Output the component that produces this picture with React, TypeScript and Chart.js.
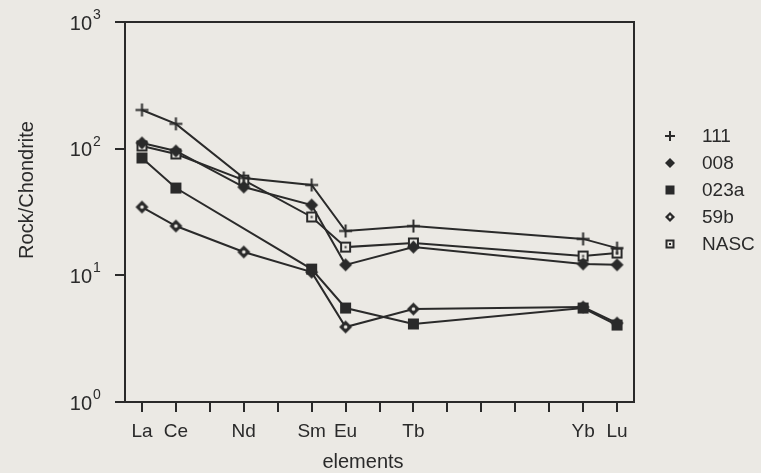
import React, { useEffect, useRef } from 'react';
import { Chart, registerables } from 'chart.js';

Chart.register(...registerables);

// ---- data ----
const elements = ['La', 'Ce', 'Pr', 'Nd', 'Pm', 'Sm', 'Eu', 'Gd', 'Tb', 'Dy', 'Ho', 'Er', 'Tm', 'Yb', 'Lu'];
const labeledElements = ['La', 'Ce', 'Nd', 'Sm', 'Eu', 'Tb', 'Yb', 'Lu'];
const yTickExponents = [0, 1, 2, 3];
const seriesNames = ['111', '008', '023a', '59b', 'NASC'];

// values at La, Ce, Nd, Sm, Eu, Tb, Yb, Lu
const s111 = [202, 157, 58.7, 51.7, 22.4, 24.5, 19.4, 16.4];
const s008 = [111, 95.9, 49.8, 35.9, 12.1, 16.7, 12.3, 12.1];
const s023a = [84.4, 48.9, null, 11.2, 5.52, 4.13, 5.52, 4.05];
const s59b = [34.6, 24.5, 15.3, 10.6, 3.91, 5.42, 5.62, 4.2];
const sNASC = [105, 90.8, 56.5, 28.9, 16.7, 18.0, 14.2, 15.0];

const seriesValues = [s111, s008, s023a, s59b, sNASC];

const INK = '#2a2a2a';
const PAPER = '#ebe9e4';
const FONT = '"Liberation Sans", Arial, Helvetica, sans-serif';

function makeMarker(kind: string, size: number): HTMLCanvasElement {
  const c = document.createElement('canvas');
  c.width = size;
  c.height = size;
  const g = c.getContext('2d')!;
  const m = size / 2;
  const h = size / 2 - 1;
  g.fillStyle = INK;
  g.strokeStyle = INK;
  if (kind === 'cross') {
    g.fillRect(1, m - 1, size - 2, 2);
    g.fillRect(m - 1, 1, 2, size - 2);
  } else if (kind === 'diamond' || kind === 'diamondDot') {
    g.beginPath();
    g.moveTo(m, m - h);
    g.lineTo(m + h, m);
    g.lineTo(m, m + h);
    g.lineTo(m - h, m);
    g.closePath();
    g.fill();
    if (kind === 'diamondDot') {
      g.fillStyle = PAPER;
      g.beginPath();
      g.arc(m, m, size * 0.12, 0, Math.PI * 2);
      g.fill();
    }
  } else if (kind === 'square') {
    const s = Math.round(size * 0.72);
    const o = (size - s) / 2;
    g.fillRect(o, o, s, s);
  } else if (kind === 'squareDot') {
    const s = Math.round(size * 0.76);
    const o = (size - s) / 2;
    g.fillRect(o, o, s, s);
    g.fillStyle = PAPER;
    g.fillRect(o + 2, o + 2, s - 4, s - 4);
    g.fillStyle = INK;
    g.fillRect(m - 1, m - 1, 2, 2);
  }
  return c;
}

export default function App() {
  const ref = useRef<HTMLCanvasElement | null>(null);

  useEffect(() => {
    document.body.style.margin = '0';
    const kinds = ['cross', 'diamond', 'square', 'diamondDot', 'squareDot'];
    const markers = kinds.map((k) => makeMarker(k, 15));
    const legendMarkers = kinds.map((k) => makeMarker(k, 12));

    const datasets = seriesNames.map((name, si) => ({
      label: name,
      data: labeledElements
        .map((el, i) => ({ x: elements.indexOf(el), y: seriesValues[si][i] }))
        .filter((p) => p.y !== null),
      borderColor: INK,
      borderWidth: 2,
      backgroundColor: INK,
      pointStyle: markers[si],
      pointRadius: 7,
      tension: 0,
      fill: false,
    }));

    const framePlugin = {
      id: 'frame',
      beforeDraw(chart: any) {
        const { ctx, width, height } = chart;
        ctx.save();
        ctx.fillStyle = PAPER;
        ctx.fillRect(0, 0, width, height);
        ctx.restore();
      },
      afterDraw(chart: any) {
        const { ctx } = chart;
        const { left, right, top, bottom } = chart.chartArea;
        const ys = chart.scales.y;
        ctx.save();
        ctx.strokeStyle = INK;
        ctx.lineWidth = 2;
        ctx.beginPath();
        ctx.moveTo(left, top);
        ctx.lineTo(right, top);
        ctx.lineTo(right, bottom + 1);
        ctx.stroke();

        ctx.fillStyle = INK;
        yTickExponents.forEach((e) => {
          const py = ys.getPixelForValue(Math.pow(10, e));
          ctx.font = `20px ${FONT}`;
          ctx.textAlign = 'right';
          ctx.textBaseline = 'middle';
          ctx.fillText('10', 92, py + 2);
          ctx.font = `14px ${FONT}`;
          ctx.textAlign = 'left';
          ctx.textBaseline = 'alphabetic';
          ctx.fillText(String(e), 93, py - 3);
        });

        // axis titles
        ctx.font = `20px ${FONT}`;
        ctx.textAlign = 'center';
        ctx.textBaseline = 'middle';
        ctx.fillText('elements', 363, 462);
        ctx.save();
        ctx.translate(27, 190);
        ctx.rotate(-Math.PI / 2);
        ctx.fillText('Rock/Chondrite', 0, 0);
        ctx.restore();

        // legend
        ctx.font = `19px ${FONT}`;
        ctx.textAlign = 'left';
        seriesNames.forEach((name, i) => {
          const ly = 136 + i * 27;
          const mk = legendMarkers[i];
          ctx.drawImage(mk, 670 - mk.width / 2, ly - mk.height / 2);
          ctx.fillText(name, 702, ly + 1);
        });
        ctx.restore();
      },
    };

    const gridOpts = {
      drawOnChartArea: false,
      drawTicks: true,
      tickLength: 10,
      color: INK,
      lineWidth: 2,
    };

    const chart = new Chart(ref.current!, {
      type: 'line',
      data: { datasets: datasets as any },
      options: {
        animation: false,
        responsive: false,
        events: [],
        layout: { padding: { top: 22, right: 127, bottom: 0, left: 0 } },
        plugins: { legend: { display: false }, tooltip: { enabled: false } },
        scales: {
          x: {
            type: 'linear',
            min: -0.5,
            max: 14.5,
            afterBuildTicks: (s: any) => {
              s.ticks = elements.map((_, i) => ({ value: i }));
            },
            afterFit: (s: any) => {
              s.height = 71;
            },
            ticks: {
              autoSkip: false,
              maxRotation: 0,
              minRotation: 0,
              padding: 8,
              color: INK,
              font: { family: FONT, size: 19 },
              callback: (v: any) => {
                const name = elements[Number(v)];
                return labeledElements.includes(name) ? name : '';
              },
            },
            grid: gridOpts,
            border: { display: true, color: INK, width: 2 },
          },
          y: {
            type: 'logarithmic',
            min: 1,
            max: 1000,
            afterBuildTicks: (s: any) => {
              s.ticks = yTickExponents.map((e) => ({ value: Math.pow(10, e) }));
            },
            afterFit: (s: any) => {
              s.width = 125;
            },
            ticks: { display: false },
            grid: gridOpts,
            border: { display: true, color: INK, width: 2 },
          },
        },
      },
      plugins: [framePlugin],
    });

    return () => chart.destroy();
  }, []);

  return (
    <div style={{ position: 'absolute', left: 0, top: 0, width: 761, height: 473, background: PAPER }}>
      <canvas ref={ref} width={761} height={473} />
    </div>
  );
}
